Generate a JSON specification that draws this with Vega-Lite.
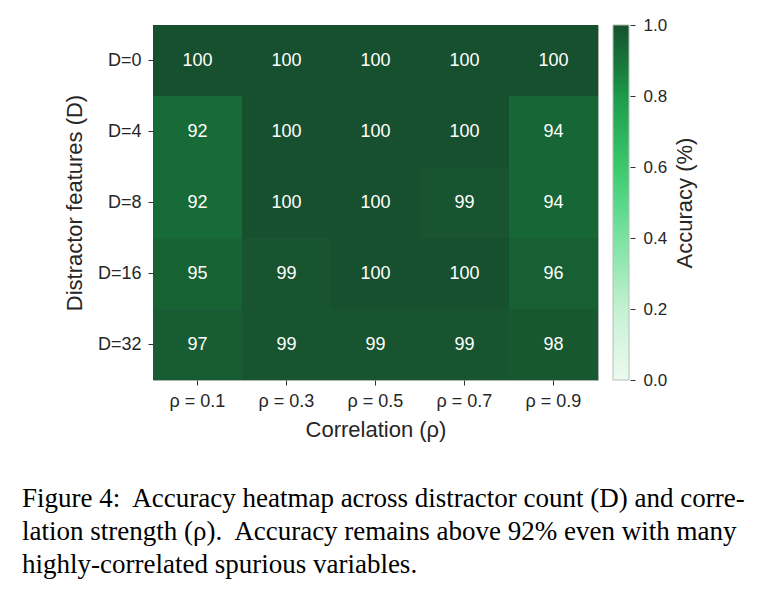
{
  "$schema": "https://vega.github.io/schema/vega-lite/v6.json",
  "autosize": "none",
  "width": 445,
  "height": 355,
  "padding": {"left": 153, "top": 25, "right": 162, "bottom": 210},
  "background": "white",
  "data": {
    "values": [
      {"D": "D=0", "rho": "ρ = 0.1", "acc": 100},
      {"D": "D=0", "rho": "ρ = 0.3", "acc": 100},
      {"D": "D=0", "rho": "ρ = 0.5", "acc": 100},
      {"D": "D=0", "rho": "ρ = 0.7", "acc": 100},
      {"D": "D=0", "rho": "ρ = 0.9", "acc": 100},
      {"D": "D=4", "rho": "ρ = 0.1", "acc": 92},
      {"D": "D=4", "rho": "ρ = 0.3", "acc": 100},
      {"D": "D=4", "rho": "ρ = 0.5", "acc": 100},
      {"D": "D=4", "rho": "ρ = 0.7", "acc": 100},
      {"D": "D=4", "rho": "ρ = 0.9", "acc": 94},
      {"D": "D=8", "rho": "ρ = 0.1", "acc": 92},
      {"D": "D=8", "rho": "ρ = 0.3", "acc": 100},
      {"D": "D=8", "rho": "ρ = 0.5", "acc": 100},
      {"D": "D=8", "rho": "ρ = 0.7", "acc": 99},
      {"D": "D=8", "rho": "ρ = 0.9", "acc": 94},
      {"D": "D=16", "rho": "ρ = 0.1", "acc": 95},
      {"D": "D=16", "rho": "ρ = 0.3", "acc": 99},
      {"D": "D=16", "rho": "ρ = 0.5", "acc": 100},
      {"D": "D=16", "rho": "ρ = 0.7", "acc": 100},
      {"D": "D=16", "rho": "ρ = 0.9", "acc": 96},
      {"D": "D=32", "rho": "ρ = 0.1", "acc": 97},
      {"D": "D=32", "rho": "ρ = 0.3", "acc": 99},
      {"D": "D=32", "rho": "ρ = 0.5", "acc": 99},
      {"D": "D=32", "rho": "ρ = 0.7", "acc": 99},
      {"D": "D=32", "rho": "ρ = 0.9", "acc": 98}
    ]
  },
  "title": {
    "text": [
      "Figure 4:\u00a0 Accuracy heatmap across distractor count (D) and corre-",
      "lation strength (ρ).\u00a0 Accuracy remains above 92% even with many",
      "highly-correlated spurious variables."
    ],
    "orient": "bottom",
    "anchor": "start",
    "frame": "group",
    "dx": -131,
    "offset": 46,
    "font": "Liberation Serif",
    "fontSize": 27,
    "fontWeight": "normal",
    "lineHeight": 33,
    "color": "#000000"
  },
  "resolve": {"scale": {"y": "independent"}, "axis": {"y": "independent"}},
  "layer": [
    {
      "encoding": {
        "x": {
          "field": "rho",
          "type": "nominal",
          "sort": ["ρ = 0.1", "ρ = 0.3", "ρ = 0.5", "ρ = 0.7", "ρ = 0.9"],
          "title": "Correlation (ρ)",
          "axis": {
            "labelAngle": 0,
            "labelFontSize": 18,
            "labelPadding": 7,
            "titleFontSize": 22,
            "titlePadding": 9
          }
        },
        "y": {
          "field": "D",
          "type": "nominal",
          "sort": ["D=0", "D=4", "D=8", "D=16", "D=32"],
          "title": "Distractor features (D)",
          "axis": {
            "orient": "left",
            "labelFontSize": 18,
            "labelPadding": 7,
            "titleFontSize": 22,
            "titlePadding": 11
          }
        }
      },
      "layer": [
        {
          "mark": {"type": "rect"},
          "encoding": {
            "color": {
              "field": "acc",
              "type": "quantitative",
              "scale": {
                "domain": [0, 20, 40, 50, 60, 80, 92, 96, 100],
                "range": ["#edfaf0", "#c4f1d2", "#7ae2a0", "#58d789", "#3bc96c", "#1c9a4a", "#176b37", "#176033", "#17502e"],
                "interpolate": "rgb"
              },
              "legend": {
                "type": "gradient",
                "direction": "vertical",
                "orient": "none",
                "legendX": 460,
                "legendY": 0,
                "padding": 0,
                "title": null,
                "gradientLength": 355,
                "gradientThickness": 16,
                "gradientStrokeColor": "#b5bdb7",
                "gradientStrokeWidth": 1,
                "labelExpr": "''",
                "labelOffset": 0
              }
            }
          }
        },
        {
          "mark": {"type": "text", "fontSize": 18, "color": "white", "font": "Liberation Sans"},
          "encoding": {
            "text": {"field": "acc", "type": "quantitative"}
          }
        }
      ]
    },
    {
      "mark": {"type": "rule", "opacity": 0},
      "encoding": {
        "y": {
          "field": "acc",
          "type": "quantitative",
          "scale": {"domain": [0, 100], "nice": false, "zero": true},
          "title": "Accuracy (%)",
          "axis": {
            "orient": "right",
            "offset": 32,
            "values": [0, 20, 40, 60, 80, 100],
            "labelExpr": "format(datum.value / 100, '.1f')",
            "labelFontSize": 17,
            "labelPadding": 8,
            "labelBaseline": "middle",
            "labelFlush": false,
            "labelOverlap": false,
            "titleFontSize": 22,
            "titleAngle": 270,
            "titleBaseline": "top",
            "titlePadding": 8
          }
        }
      }
    }
  ],
  "config": {
    "font": "Liberation Sans",
    "view": {"stroke": "#a9b3ab", "strokeWidth": 1},
    "axis": {
      "domain": false,
      "grid": false,
      "ticks": true,
      "tickSize": 5,
      "tickColor": "#333333",
      "labelColor": "#262626",
      "titleColor": "#262626",
      "labelFont": "Liberation Sans",
      "titleFont": "Liberation Sans",
      "titleFontWeight": "normal"
    }
  }
}
